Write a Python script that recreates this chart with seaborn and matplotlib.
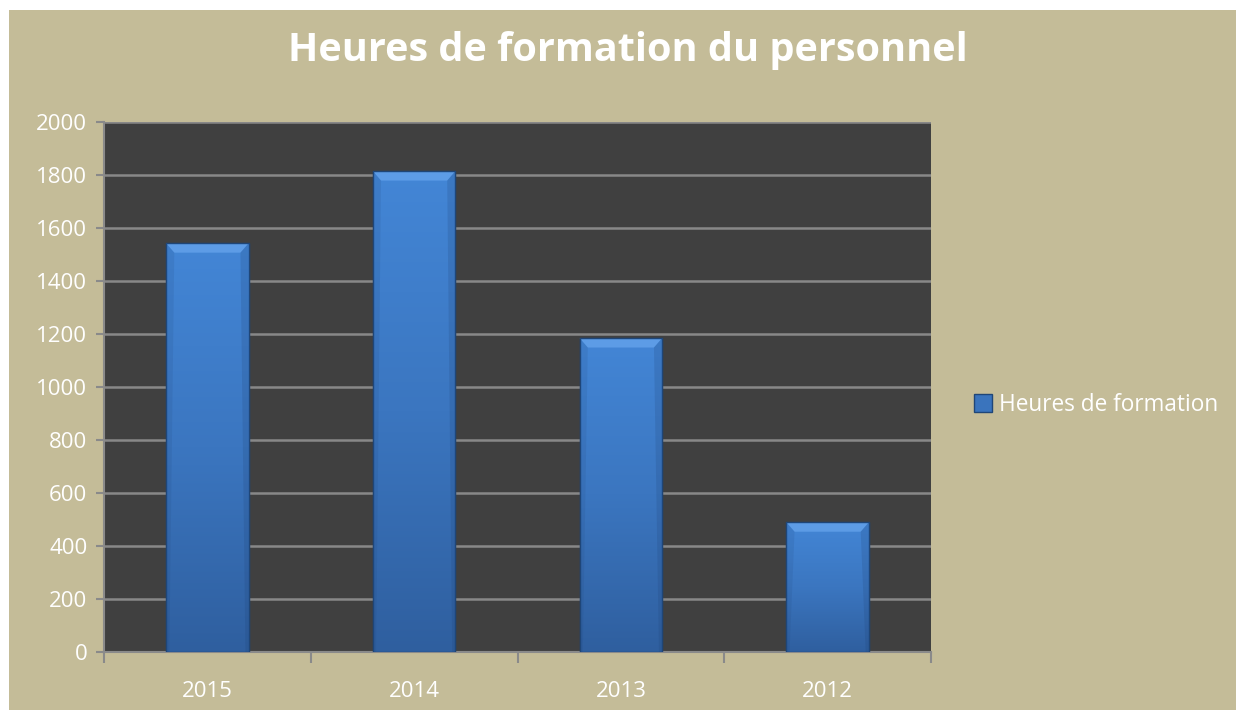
import numpy as np
import pandas as pd
import matplotlib
matplotlib.use("Agg")
import matplotlib.pyplot as plt
import seaborn as sns
from matplotlib.patches import Rectangle, Patch, Polygon
from matplotlib.colors import LinearSegmentedColormap

years = ["2015", "2014", "2013", "2012"]
hours = [1543, 1815, 1185, 490]
series_name = "Heures de formation"
title = "Heures de formation du personnel"
yticks = [0, 200, 400, 600, 800, 1000, 1200, 1400, 1600, 1800, 2000]

sns.set_theme(style="white")
plt.rcParams['font.family'] = ['Open Sans', 'DejaVu Sans']

TAN = "#C4BC98"
PLOT_BG = "#404040"
GRID = "#888888"

fig = plt.figure(figsize=(12.36, 7.10), dpi=100, facecolor="white")
fig.patches.append(Rectangle((9/1236, 0), 1 - 9/1236, 1 - 10/710, transform=fig.transFigure,
                             facecolor=TAN, edgecolor="none", zorder=-10))

ax = fig.add_axes([104/1236, 58/710, (931-104)/1236, (652-122)/710])
ax.set_facecolor(PLOT_BG)

df = pd.DataFrame({"year": years, "hours": hours})
sns.barplot(data=df, x="year", y="hours", color="#3F7FCC", width=0.4, ax=ax,
            edgecolor="#1F4678", linewidth=0.8, zorder=3, saturation=1)

ax.set_ylim(0, 2000)
ax.set_xlim(-0.5, len(years) - 0.5)
ax.set_yticks(yticks)
ax.set_yticklabels([str(v) for v in yticks])
ax.yaxis.grid(True, color=GRID, linewidth=1.8, zorder=0)
ax.set_axisbelow(True)
ax.set_xlabel("")
ax.set_ylabel("")

for s in ["top", "right"]:
    ax.spines[s].set_visible(False)
for s in ["left", "bottom"]:
    ax.spines[s].set_color("#8A8A8A")
    ax.spines[s].set_linewidth(1.5)

ax.tick_params(axis="y", colors="white", labelsize=16, length=6, width=1.5, direction="out",
               left=True, pad=6)
ax.tick_params(axis="y", which="major", color="#8A8A8A")
ax.tick_params(axis="x", which="major", colors="white", labelsize=16, length=0, pad=21)
ax.set_xticks(np.arange(-0.5, len(years)), minor=True)
ax.tick_params(axis="x", which="minor", length=8, width=1.5, color="#8A8A8A", direction="out", bottom=True)

# gradient overlay on bars
cmap = LinearSegmentedColormap.from_list("bar", ["#2F5F9F", "#3B76C0", "#4386D6"])
grad = np.linspace(0, 1, 256).reshape(-1, 1)
for p in list(ax.patches):
    x0, y0 = p.get_x(), p.get_y()
    w, h = p.get_width(), p.get_height()
    im = ax.imshow(grad, extent=[x0, x0 + w, y0, y0 + h], origin="lower", cmap=cmap,
                   aspect="auto", zorder=3.5)
    im.set_clip_path(p)
    dx = w * 0.1
    dy = 36
    # top bevel (trapezoid)
    ax.add_patch(Polygon([(x0, y0 + h), (x0 + w, y0 + h), (x0 + w - dx, y0 + h - dy),
                          (x0 + dx, y0 + h - dy)], closed=True,
                         facecolor="#74B0F5", alpha=0.55, edgecolor="none", zorder=3.6))
    # side shading
    ax.add_patch(Polygon([(x0 + w, y0 + h), (x0 + w, y0), (x0 + w - dx * 0.4, y0),
                          (x0 + w - dx, y0 + h - dy)], closed=True,
                         facecolor="#1E3F70", alpha=0.18, edgecolor="none", zorder=3.6))
    ax.add_patch(Polygon([(x0, y0 + h), (x0, y0), (x0 + dx * 0.4, y0),
                          (x0 + dx, y0 + h - dy)], closed=True,
                         facecolor="#1E3F70", alpha=0.12, edgecolor="none", zorder=3.6))
    ax.add_patch(Rectangle((x0, y0), w, h, facecolor="none", edgecolor="#1F4678",
                           linewidth=1.0, zorder=3.8))
ax.set_xlim(-0.5, len(years) - 0.5)
ax.set_ylim(0, 2000)

fig.text(628/1236, 1 - 51/710, title, ha="center", va="center", color="white",
         fontsize=28.5, fontweight="bold")

handles = [Patch(facecolor="#3A74BD", edgecolor="#1F4678", label=series_name)]
fig.legend(handles=handles, loc="center left", bbox_to_anchor=(974/1236, 1 - 405/710),
           frameon=False, fontsize=16.3, labelcolor="white", handlelength=0.8, handleheight=0.8,
           handletextpad=0.3, borderaxespad=0, borderpad=0)

fig.savefig("out.png", dpi=100, facecolor=fig.get_facecolor())
